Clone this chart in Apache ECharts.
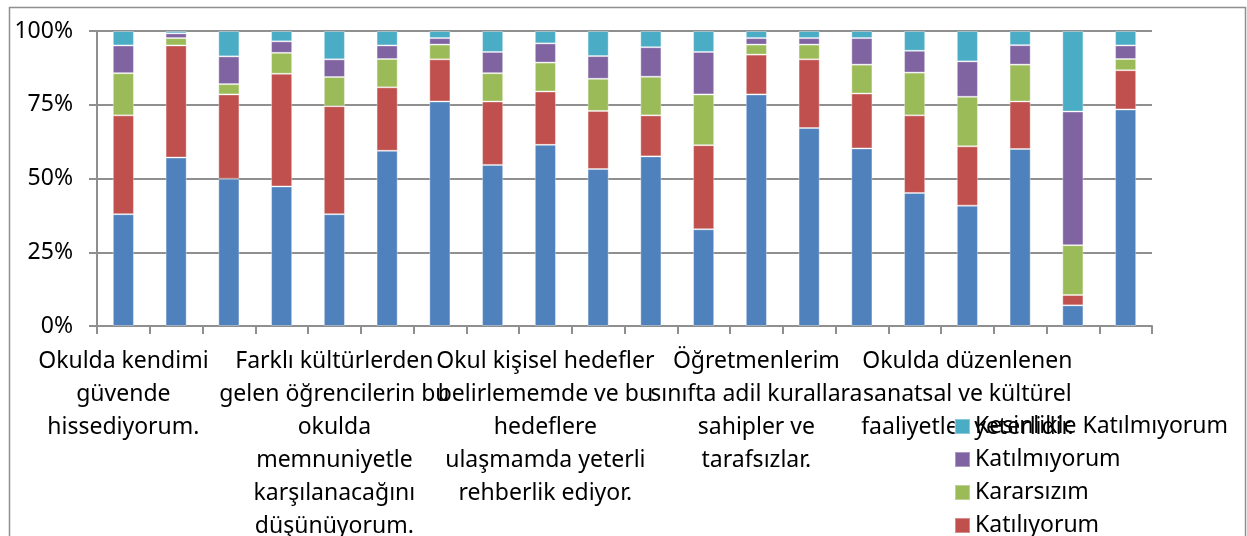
<!DOCTYPE html>
<html>
<head>
<meta charset="utf-8">
<script src="https://cdn.jsdelivr.net/npm/echarts@6/dist/echarts.min.js"></script>
<style>
    html, body { margin: 0; padding: 0; background: #fff; }
    #chart { width: 1247px; height: 536px; }
</style>
</head>
<body>
<div id="chart"></div>
<script>
// 20 madde, sadece her 4. etiket görünüyor
var categories = [
    'Okulda kendimi\ngüvende\nhissediyorum.', '2', '3', '4',
    'Farklı kültürlerden\ngelen öğrencilerin bu\nokulda\nmemnuniyetle\nkarşılanacağını\ndüşünüyorum.', '6', '7', '8',
    'Okul kişisel hedefler\nbelirlememde ve bu\nhedeflere\nulaşmamda yeterli\nrehberlik ediyor.', '10', '11', '12',
    'Öğretmenlerim\nsınıfta adil kurallara\nsahipler ve\ntarafsızlar.', '14', '15', '16',
    'Okulda düzenlenen\nsanatsal ve kültürel\nfaaliyetler yeterlidir.', '18', '19', '20'
]
var seriesNames = ['Kesinlikle Katılıyorum', 'Katılıyorum', 'Kararsızım', 'Katılmıyorum', 'Kesinlikle Katılmıyorum']
var legendOrder = ['Kesinlikle Katılmıyorum', 'Katılmıyorum', 'Kararsızım', 'Katılıyorum', 'Kesinlikle Katılıyorum']
var colors = ['#4f81bd', '#c0504d', '#9bbb59', '#8064a2', '#4bacc6']
var yTicks = [0, 25, 50, 75, 100]

var kesinlikleKatiliyorum = [37.9, 57.1, 49.9, 47.3, 37.9, 59.4, 76.1, 54.6, 61.4, 53.2, 57.5, 32.8, 78.5, 67.1, 60.2, 45.1, 40.8, 60.0, 7.0, 73.4]
var katiliyorum = [33.5, 38.0, 28.6, 38.2, 36.6, 21.5, 14.3, 21.5, 18.1, 19.7, 13.9, 28.5, 13.5, 23.3, 18.6, 26.3, 20.1, 16.1, 3.5, 13.3]
var kararsizim = [14.3, 2.5, 3.5, 7.1, 9.9, 9.6, 5.0, 9.6, 9.8, 10.9, 13.1, 17.2, 3.4, 5.0, 9.8, 14.5, 16.8, 12.5, 16.9, 3.8]
var katilmiyorum = [9.4, 1.6, 9.4, 3.9, 6.0, 4.6, 2.2, 7.2, 6.5, 7.7, 10.0, 14.4, 2.2, 2.2, 9.0, 7.4, 12.0, 6.6, 45.3, 4.6]
var kesinlikleKatilmiyorum = [4.9, 0.8, 8.6, 3.5, 9.6, 4.9, 2.4, 7.1, 4.2, 8.5, 5.5, 7.1, 2.4, 2.4, 2.4, 6.7, 10.3, 4.8, 27.3, 4.9]

var values = [kesinlikleKatiliyorum, katiliyorum, kararsizim, katilmiyorum, kesinlikleKatilmiyorum]

var font = 'Noto Sans'
var lineColor = '#8f8f8f'

var chart = echarts.init(document.getElementById('chart'))

chart.setOption({
    animation: false,
    color: colors,
    textStyle: { fontFamily: font },
    grid: { left: 97, right: 95, top: 31, bottom: 210, containLabel: false, outerBoundsMode: 'none' },
    graphic: [{
        type: 'rect',
        shape: { x: 9.5, y: 7.5, width: 1236, height: 600 },
        style: { fill: 'none', stroke: lineColor, lineWidth: 1.5 },
        silent: true
    }],
    legend: {
        orient: 'vertical',
        left: 954,
        top: 415,
        height: 200,
        padding: 0,
        itemWidth: 15,
        itemHeight: 15,
        itemGap: 10,
        icon: 'rect',
        data: legendOrder,
        z: 10,
        textStyle: { fontFamily: font, fontSize: 23, color: '#000', lineHeight: 23 }
    },
    xAxis: {
        type: 'category',
        data: categories,
        axisLine: { lineStyle: { color: lineColor, width: 2 } },
        axisTick: { show: true, interval: 0, length: 8, lineStyle: { color: lineColor, width: 2 } },
        axisLabel: {
            interval: 0,
            hideOverlap: false,
            margin: 19,
            fontFamily: font,
            fontSize: 23,
            lineHeight: 33,
            color: '#000',
            align: 'center',
            // Excel gibi sadece her 4. maddenin etiketi
            formatter: function (v, i) { return i % 4 === 0 ? v : '' }
        }
    },
    yAxis: {
        type: 'value',
        min: 0,
        max: 100,
        interval: 25,
        axisLine: { show: true, lineStyle: { color: lineColor, width: 2 } },
        axisTick: { show: true, length: 8, lineStyle: { color: lineColor, width: 2 } },
        splitLine: { lineStyle: { color: lineColor, width: 2 } },
        axisLabel: {
            margin: 24,
            fontFamily: font,
            fontSize: 23,
            color: '#000',
            formatter: function (v) { return yTicks.indexOf(v) >= 0 ? v + '%' : '' }
        }
    },
    series: seriesNames.map(function (name, i) {
        return {
            name: name,
            type: 'bar',
            stack: 'toplam',
            barCategoryGap: '60%',
            data: values[i],
            itemStyle: { borderColor: 'rgba(255,255,255,0.35)', borderWidth: 1 }
        }
    })
})
</script>
</body>
</html>
